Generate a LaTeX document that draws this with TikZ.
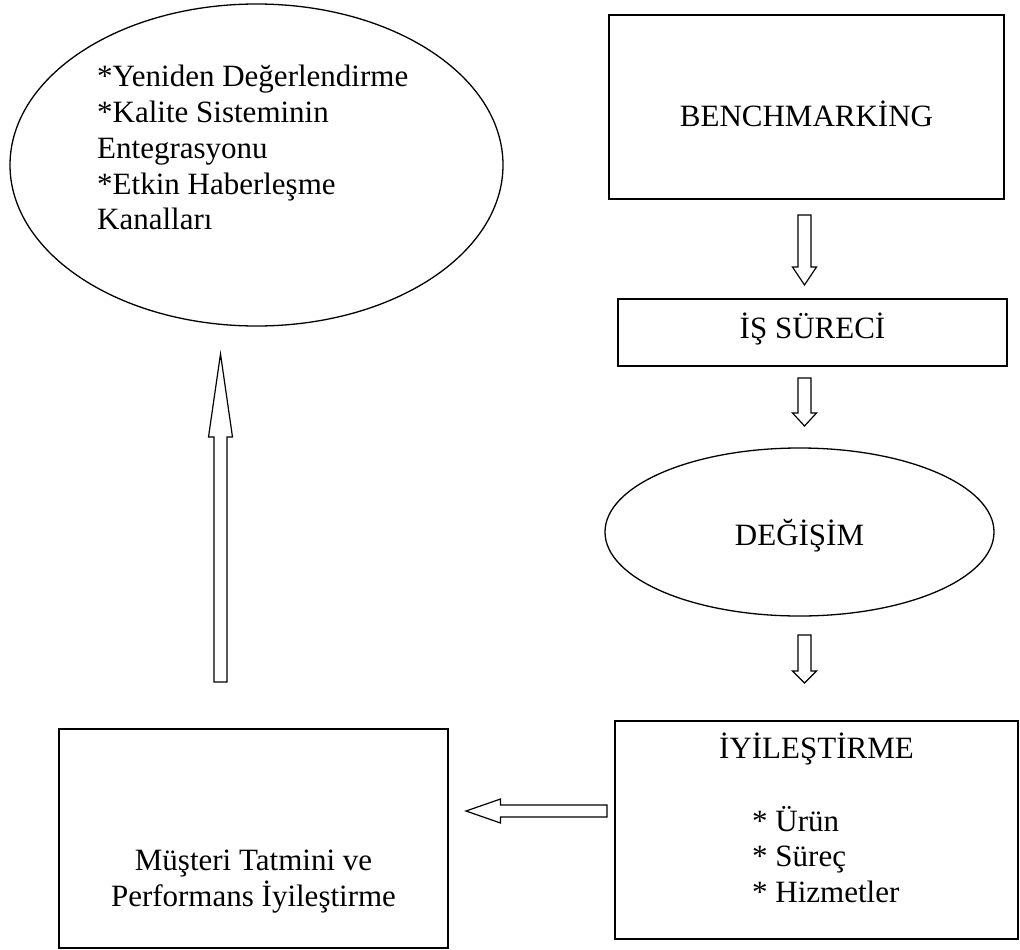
\documentclass[tikz,border=0pt]{standalone}
\usepackage{fontspec}
\setmainfont{Liberation Serif}
\usetikzlibrary{shapes.geometric,calc}

% hollow block arrow: tail, tip, shaft half-width, head half-width, head length
\newcommand\blockarrow[5]{%
  \coordinate (ba-base) at ($(#2)!#5!(#1)$);
  \draw[blk] ($(#1)!#3!90:(#2)$) -- ($(ba-base)!#3!90:(#2)$)
    -- ($(ba-base)!#4!90:(#2)$) -- (#2) -- ($(ba-base)!#4!-90:(#2)$)
    -- ($(ba-base)!#3!-90:(#2)$) -- ($(#1)!#3!-90:(#2)$) -- cycle;}

\begin{document}
\begin{tikzpicture}[x=1pt,y=-1pt,
  every node/.style={font=\fontsize{31pt}{35.7pt}\selectfont, inner sep=0pt},
  box/.style={draw, line width=1.3pt, rectangle},
  oval/.style={draw, line width=1.3pt, ellipse},
  blk/.style={draw, line width=1.2pt, fill=white, line join=miter}]
\useasboundingbox (0,0) rectangle (1020,950);

% left ellipse with the goals
\node[oval, minimum width=493pt, minimum height=322pt] (goals) at (256.5,165) {};
\node[anchor=base west] (goalstext) at (97,87)
  {\begin{tabular}[t]{@{}l@{}}*Yeniden Değerlendirme\\{}*Kalite Sisteminin\\Entegrasyonu\\{}*Etkin Haberleşme\\Kanalları\end{tabular}};

% right-hand chain
\node[box, minimum width=395pt, minimum height=184pt, text height=38pt, text depth=0pt]
  (bench) at (806.5,107) {BENCHMARKİNG};
\node[box, minimum width=389pt, minimum height=67pt, text height=11pt, text depth=0pt]
  (proc) at (812.5,332.5) {İŞ SÜRECİ};
\node[oval, minimum width=389pt, minimum height=168pt, text height=26pt, text depth=0pt]
  (change) at (799.5,532) {DEĞİŞİM};
\node[box, minimum width=403pt, minimum height=218pt, text height=0pt, text depth=144pt]
  (improve) at (816.5,830) {İYİLEŞTİRME};
\node[anchor=base west] (improvelist) at (752,831)
  {\begin{tabular}[t]{@{}l@{}}* Ürün\\{}* Süreç\\{}* Hizmetler\end{tabular}};

% bottom-left box
\node[box, minimum width=389pt, minimum height=219pt, text height=63pt, text depth=0pt]
  (customer) at (253.5,838.5)
  {\begin{tabular}[t]{@{}c@{}}Müşteri Tatmini ve\\Performans İyileştirme\end{tabular}};

% arrow end points
\coordinate (a1t) at (804.5,215);  \coordinate (a1h) at (804.5,285);
\coordinate (a2t) at (804.5,378);  \coordinate (a2h) at (804.5,426);
\coordinate (a3t) at (804.5,635);  \coordinate (a3h) at (804.5,683);
\coordinate (a4t) at (607,811);    \coordinate (a4h) at (466,811);
\coordinate (a5t) at (220.5,682);  \coordinate (a5h) at (220.5,354);

\blockarrow{a1t}{a1h}{6.5pt}{12pt}{18pt}
\blockarrow{a2t}{a2h}{6.5pt}{12pt}{13pt}
\blockarrow{a3t}{a3h}{6.5pt}{12pt}{12pt}
\blockarrow{a4t}{a4h}{6pt}{12pt}{34.5pt}
\blockarrow{a5t}{a5h}{6.5pt}{12pt}{83pt}
\end{tikzpicture}
\end{document}
